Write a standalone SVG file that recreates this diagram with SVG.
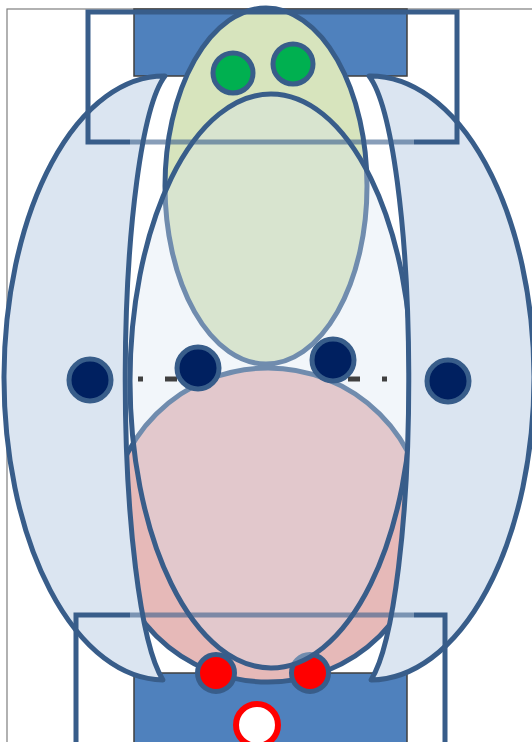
<svg xmlns="http://www.w3.org/2000/svg" width="532" height="742" viewBox="0 0 532 742">
<style>
.ol{stroke:#385D8A;stroke-width:5}
.blk{fill:#4F81BD;stroke:#3F3F3F;stroke-width:1.5}
.frame{fill:none;stroke:#385D8A;stroke-width:5;stroke-linejoin:miter}
.cres{fill:#DBE5F1;stroke:#385D8A;stroke-width:5;stroke-linejoin:round}
.navy{fill:#002060;stroke:#385D8A;stroke-width:5}
.grn{fill:#00B050;stroke:#385D8A;stroke-width:5}
.red{fill:#FF0000;stroke:#385D8A;stroke-width:5}
.dash{stroke:#404040;stroke-width:5;stroke-dasharray:5 22 12 22}
</style>
<rect x="0" y="0" width="532" height="742" fill="#FFFFFF"/>
<rect x="7" y="9" width="620" height="800" fill="none" stroke="#7F7F7F" stroke-width="1.2"/>
<g id="top-block"><rect class="blk" x="134" y="9" width="273" height="67"/></g>
<g id="bottom-block"><rect class="blk" x="134" y="673" width="273" height="75"/></g>
<g id="green-ellipse"><ellipse class="ol" cx="266" cy="186" rx="101" ry="178" fill="#D7E4BD"/></g>
<g id="pink-ellipse"><ellipse class="ol" cx="268" cy="525" rx="158" ry="157" fill="#E6B9B8"/></g>
<g id="red-dot-left"><circle class="red" cx="216" cy="673" r="18.5"/></g>
<g id="red-dot-right"><circle class="red" cx="310" cy="673" r="18.5"/></g>
<g id="white-dot"><circle cx="257" cy="725" r="21" fill="#FFFFFF" stroke="#FF0000" stroke-width="6"/></g>
<g id="big-ellipse"><ellipse cx="271" cy="381" rx="141" ry="287" fill="#DBE5F1" fill-opacity="0.35" stroke="#385D8A" stroke-width="5"/></g>
<g id="connectors">
<line class="dash" x1="138" y1="379" x2="206" y2="379"/>
<line class="dash" x1="326" y1="379" x2="420" y2="379" stroke-dashoffset="5"/>
</g>
<g id="left-crescent"><path class="cres" d="M165,76 A160,302 0 0 0 163,680 A50,310 0 0 1 165,76 Z"/></g>
<g id="right-crescent"><path class="cres" d="M369,76 A164,302 0 0 1 371,680 A50,310 0 0 0 369,76 Z"/></g>
<g id="top-frame">
<path class="frame" d="M130,142 H88 V12 H457 V142 H414"/>
<line x1="130" y1="142" x2="414" y2="142" stroke="#385D8A" stroke-width="5" stroke-opacity="0.6"/>
</g>
<g id="bottom-frame">
<path class="frame" d="M76,760 V615 H130 M414,615 H445 V760"/>
<line x1="130" y1="615" x2="414" y2="615" stroke="#385D8A" stroke-width="5" stroke-opacity="0.6"/>
</g>
<g id="navy-dot-1"><circle class="navy" cx="90" cy="380" r="21"/></g>
<g id="navy-dot-2"><circle class="navy" cx="198" cy="368" r="21"/></g>
<g id="navy-dot-3"><circle class="navy" cx="333" cy="360" r="21"/></g>
<g id="navy-dot-4"><circle class="navy" cx="448" cy="381" r="21"/></g>
<g id="green-dot-1"><circle class="grn" cx="233" cy="73" r="20"/></g>
<g id="green-dot-2"><circle class="grn" cx="293" cy="64" r="20"/></g>
</svg>
